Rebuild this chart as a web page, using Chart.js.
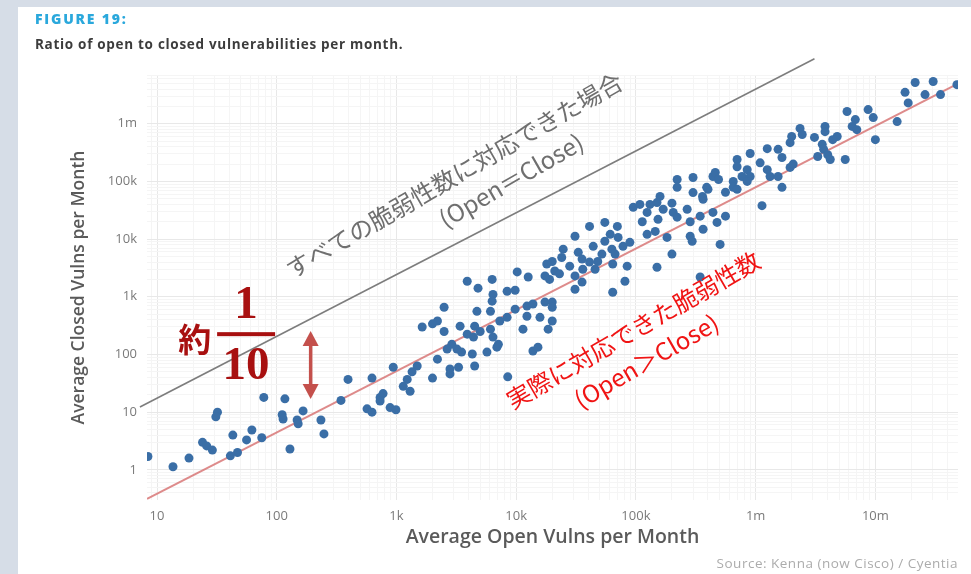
<!DOCTYPE html>
<html>
<head>
<meta charset="utf-8">
<script src="https://cdn.jsdelivr.net/npm/chart.js@4.4.1/dist/chart.umd.min.js"></script>
<style>
    html, body { margin: 0; padding: 0; background: #d6dde7; }
    #wrap { position: relative; width: 971px; height: 574px; }
</style>
</head>
<body>
<div id="wrap"><canvas id="chart"></canvas></div>
<script>
// average open / closed vulns per month, one entry per organisation
const openVulns = [
    8.4, 13.6, 18.5, 24, 26, 29, 32, 31, 43, 41, 47, 62, 56, 75, 78, 117, 111, 113, 129, 148,
    151, 166, 234, 248, 344, 394, 625, 568, 625, 730, 773, 885, 990, 940,
    3900, 4800, 6300, 10200, 12600, 18000, 20000, 19000, 8400, 9800, 6400, 6300, 2500, 4700, 6100, 8400,
    9800, 12300, 13800, 17400, 20000, 12300, 15800, 20000, 2200, 2000, 1640, 2500, 3400, 4500, 5000, 6100,
    7300, 11400, 18500, 3900, 4400, 6400, 7100, 2900, 3200, 2650, 3500, 4300, 5700, 6900, 13800, 15200,
    2200, 2800, 3300, 4500, 2800, 1490, 1350, 1230, 1140, 1300, 2000, 8500, 730,
    221000, 300000, 221000, 300000, 440000, 400000, 364000, 440000, 476000, 95000, 108000, 131000,
    150000, 169000, 124000, 113000, 153000, 205000, 221000, 268000, 284000, 344000, 364000, 284000,
    295000, 182000, 145000, 124000, 55000, 70000, 41000, 31000, 61000, 71000, 55000, 78000, 89000,
    44000, 63000, 67000, 52000, 24700, 24000, 33000, 35500, 41000, 48000, 45600, 36000, 28000, 21000,
    17400, 23000, 31000, 35500, 31000, 64000, 84500, 81000, 64000, 150000, 200000, 344000, 20000,
    159000, 200000, 505000,
    4.8e7, 3.04e7, 2.15e7, 1.77e7, 2.6e7, 3.5e7, 1.88e7, 1.52e7, 1.0e7, 8.7e6, 9.6e6, 5.8e6, 6.8e6,
    6.4e6, 7.0e6, 5.6e6, 3.8e6, 3.8e6, 4.8e6, 4.4e6, 3.1e6, 2.35e6, 2.45e6, 2.0e6, 1.94e6, 3.6e6,
    3.7e6, 4.0e6, 3.3e6, 4.2e6, 1.25e6, 1.54e6, 1.66e6, 9.0e5, 1.09e6, 7.0e5, 7.0e5, 1.94e6, 2.06e6,
    1.25e6, 1.32e6, 1.54e6, 8.5e5, 7.7e5, 9.0e5, 6.5e5, 8.5e5, 4.6e5, 4.9e5, 3.9e5, 5.6e5, 6.5e5,
    7.0e5, 3.6e5, 1.66e6, 1.13e6, 5.6e5
];
const closedVulns = [
    1.7, 1.13, 1.6, 3.0, 2.6, 2.2, 10, 8.3, 4.0, 1.75, 2.0, 4.9, 3.3, 3.6, 18, 17, 9.0, 7.6, 2.3, 7.3,
    6.3, 10.5, 7.3, 4.2, 16, 37, 39, 11.4, 10, 18, 21, 12, 11, 60,
    1860, 1410, 2000, 2700, 2200, 3700, 4100, 2000, 1250, 1300, 1100, 840, 660, 560, 560, 440,
    610, 690, 750, 810, 810, 460, 440, 380, 380, 340, 300, 250, 310, 310, 250, 275,
    380, 275, 275, 225, 200, 200, 150, 150, 124, 124, 110, 102, 110, 134, 115, 134,
    83, 56, 60, 63, 46, 63, 50, 37, 28, 23, 39, 41, 15.6,
    108000, 117000, 79000, 64000, 122000, 73000, 49000, 29000, 19500, 35500, 40000, 40000,
    43000, 33000, 29000, 20000, 22000, 29000, 24000, 33000, 20000, 25000, 14800, 11200,
    9200, 10700, 13600, 12100, 19500, 16600, 16600, 11200, 12100, 10700, 9200, 7500, 8800,
    7500, 6700, 5500, 5500, 6700, 4800, 5900, 4500, 4000, 4100, 3000, 3000, 3400, 2800,
    2300, 2500, 2300, 1800, 1350, 3700, 3400, 1860, 1200, 3250, 5500, 2200, 660,
    55000, 42000, 8100,
    4.76e6, 5.4e6, 5.2e6, 3.5e6, 3.2e6, 3.2e6, 2.3e6, 1.09e6, 5.3e5, 1.76e6, 1.28e6, 1.63e6, 1.18e6,
    9.0e5, 7.9e5, 2.4e5, 9.0e5, 7.3e5, 6.0e5, 5.3e5, 5.8e5, 8.3e5, 6.5e5, 6.0e5, 4.7e5, 4.4e5,
    3.6e5, 2.9e5, 2.7e5, 2.4e5, 3.7e5, 3.6e5, 2.6e5, 3.05e5, 2.1e5, 2.4e5, 1.8e5, 1.75e5, 2.0e5,
    1.6e5, 1.22e5, 1.22e5, 1.6e5, 1.22e5, 1.22e5, 1.0e5, 1.0e5, 1.43e5, 1.08e5, 7.9e4, 6.5e4, 7.9e4,
    7.3e4, 5.5e4, 7.9e4, 3.8e4, 2.5e4
];

// axis ticks
const xTickValues = [10, 100, 1e3, 1e4, 1e5, 1e6, 1e7];
const xTickLabels = ["10", "100", "1k", "10k", "100k", "1m", "10m"];
const yTickValues = [1, 10, 100, 1e3, 1e4, 1e5, 1e6];
const yTickLabels = ["1", "10", "100", "1k", "10k", "100k", "1m"];
const xRange = [8.25, 4.9e7];
const yRange = [0.315, 7e6];

// trend line (red) and the hand drawn Open=Close guide (grey), end points
const fitOpen = [8.25, 4.9e7];
const fitClosed = [0.315, 4.96e6];
const equalOpen = [7.2, 3.1e6];
const equalClosed = [12.3, 1.34e7];

// annotations, anchored in data space
const equalLabel = ["すべての脆弱性数に対応できた場合", "(Open＝Close)"];
const equalLabelAt = [[3030, 1.27e5], [9060, 1.04e5]];
const actualLabel = ["実際に対応できた脆弱性数", "(Open＞Close)"];
const actualLabelAt = [[9.5e4, 264], [1.22e5, 77]];
const ratioAt = [[20.7, 185], [55.5, 225]];   // "約" and the 1/10 fraction
const arrowAt = [192, 254, 16.9];             // x, top, bottom

const sansFont = '"Open Sans", "Noto Sans", sans-serif';
const jpFont = '"Noto Sans CJK JP", sans-serif';

function logTicks(min, max) {
    let out = [];
    for (let e = Math.floor(Math.log10(min)); e <= Math.ceil(Math.log10(max)); e++) {
        for (let m = 1; m < 10; m++) {
            let v = m * Math.pow(10, e);
            if (v >= min && v <= max) out.push({ value: v });
        }
    }
    return out;
}

function isDecade(v) {
    let l = Math.log10(v);
    return Math.abs(l - Math.round(l)) < 1e-6;
}

function labelFor(values, labels, v) {
    let i = values.findIndex((t) => Math.abs(t - v) / t < 1e-6);
    return i < 0 ? "" : labels[i];
}

const panel = {
    id: "panel",
    beforeDraw(chart) {
        const { ctx, width, height } = chart;
        ctx.save();
        ctx.fillStyle = "#d6dde7";
        ctx.fillRect(0, 0, width, height);
        ctx.fillStyle = "#ffffff";
        ctx.fillRect(18, 7, width - 18, height - 7);

        ctx.textBaseline = "middle";
        ctx.textAlign = "left";
        ctx.fillStyle = "#2aa8dc";
        ctx.font = "800 14px " + sansFont;
        ctx.letterSpacing = "1.8px";
        ctx.fillText("FIGURE 19:", 35, 20);
        ctx.fillStyle = "#3c3c3c";
        ctx.font = "700 13.5px " + sansFont;
        ctx.letterSpacing = "0.7px";
        ctx.fillText("Ratio of open to closed vulnerabilities per month.", 35, 45);

        ctx.textAlign = "right";
        ctx.fillStyle = "#acacac";
        ctx.font = "13.5px " + sansFont;
        ctx.letterSpacing = "0.5px";
        ctx.fillText("Source: Kenna (now Cisco) / Cyentia", 958, 564);
        ctx.letterSpacing = "0px";
        ctx.restore();
    },
};

const annotations = {
    id: "annotations",
    afterDraw(chart) {
        const { ctx } = chart;
        const x = chart.scales.x;
        const y = chart.scales.y;
        const px = (v) => x.getPixelForValue(v);
        const py = (v) => y.getPixelForValue(v);

        ctx.save();

        // rotated labels along the two lines
        function rotated(lines, at, color) {
            ctx.fillStyle = color;
            ctx.font = "400 24px " + jpFont;
            ctx.textAlign = "center";
            ctx.textBaseline = "middle";
            lines.forEach((t, i) => {
                ctx.save();
                ctx.translate(px(at[i][0]), py(at[i][1]));
                ctx.rotate(-Math.PI / 6);
                ctx.fillText(t, 0, 0);
                ctx.restore();
            });
        }
        rotated(equalLabel, equalLabelAt, "#6f6f6f");
        rotated(actualLabel, actualLabelAt, "#f01414");

        // 約 1/10
        ctx.fillStyle = "#a81010";
        ctx.textAlign = "center";
        ctx.textBaseline = "middle";
        ctx.font = "700 33px " + jpFont;
        ctx.fillText("約", px(ratioAt[0][0]), py(ratioAt[0][1]));
        let fx = px(ratioAt[1][0]);
        let fy = py(ratioAt[1][1]);
        ctx.font = 'bold 47px "Liberation Serif", serif';
        ctx.fillText("1", fx, fy - 28);
        ctx.fillText("10", fx, fy + 33);
        ctx.fillRect(fx - 29, fy - 2, 58, 4);

        // double arrow
        let ax = px(arrowAt[0]);
        let top = py(arrowAt[1]);
        let bottom = py(arrowAt[2]);
        ctx.strokeStyle = "#c4504c";
        ctx.fillStyle = "#c4504c";
        ctx.lineWidth = 3.5;
        ctx.beginPath();
        ctx.moveTo(ax, top + 10);
        ctx.lineTo(ax, bottom - 10);
        ctx.stroke();
        ctx.beginPath();
        ctx.moveTo(ax, top);
        ctx.lineTo(ax - 8, top + 15);
        ctx.lineTo(ax + 8, top + 15);
        ctx.closePath();
        ctx.fill();
        ctx.beginPath();
        ctx.moveTo(ax, bottom);
        ctx.lineTo(ax - 8, bottom - 15);
        ctx.lineTo(ax + 8, bottom - 15);
        ctx.closePath();
        ctx.fill();

        ctx.restore();
    },
};

const points = openVulns.map((v, i) => ({ x: v, y: closedVulns[i] }));
const gridColor = (c) => (c.tick && isDecade(c.tick.value) ? "#e8e8e8" : "#f5f5f5");

new Chart(document.getElementById("chart"), {
    type: "scatter",
    data: {
        datasets: [
            {
                data: points,
                backgroundColor: "#3a6ea6",
                borderWidth: 0,
                pointRadius: 4.5,
                pointHoverRadius: 4.5,
            },
            {
                data: fitOpen.map((v, i) => ({ x: v, y: fitClosed[i] })),
                showLine: true,
                borderColor: "rgba(214, 110, 110, 0.8)",
                borderWidth: 2,
                pointRadius: 0,
            },
            {
                data: equalOpen.map((v, i) => ({ x: v, y: equalClosed[i] })),
                showLine: true,
                borderColor: "#7d7d7d",
                borderWidth: 1.6,
                pointRadius: 0,
                clip: false,
            },
        ],
    },
    options: {
        responsive: true,
        maintainAspectRatio: false,
        animation: false,
        layout: { padding: { top: 75, right: 13, bottom: 0, left: 0 } },
        plugins: {
            legend: { display: false },
            tooltip: { enabled: false },
        },
        scales: {
            x: {
                type: "logarithmic",
                min: xRange[0],
                max: xRange[1],
                afterBuildTicks: (scale) => {
                    scale.ticks = logTicks(xRange[0], xRange[1]);
                },
                afterFit: (scale) => {
                    scale.height = 74;
                },
                border: { display: false },
                grid: { drawTicks: false, color: gridColor },
                ticks: {
                    autoSkip: false,
                    maxRotation: 0,
                    padding: 8,
                    color: "#7a7a7a",
                    font: { family: sansFont, size: 13 },
                    callback: (v) => labelFor(xTickValues, xTickLabels, v),
                },
                title: {
                    display: true,
                    text: "Average Open Vulns per Month",
                    color: "#5a5a5a",
                    font: { family: sansFont, size: 19.5, weight: "600" },
                    padding: { top: 0, bottom: 25 },
                },
            },
            y: {
                type: "logarithmic",
                min: yRange[0],
                max: yRange[1],
                afterBuildTicks: (scale) => {
                    scale.ticks = logTicks(yRange[0], yRange[1]);
                },
                afterFit: (scale) => {
                    scale.width = 147;
                },
                border: { display: false },
                grid: { drawTicks: false, color: gridColor },
                ticks: {
                    autoSkip: false,
                    padding: 10,
                    color: "#7a7a7a",
                    font: { family: sansFont, size: 13 },
                    callback: (v) => labelFor(yTickValues, yTickLabels, v),
                },
                title: {
                    display: true,
                    text: "Average Closed Vulns per Month",
                    color: "#5a5a5a",
                    font: { family: sansFont, size: 17.5, weight: "600" },
                    padding: { top: 69, bottom: 0 },
                },
            },
        },
    },
    plugins: [panel, annotations],
});
</script>
</body>
</html>
